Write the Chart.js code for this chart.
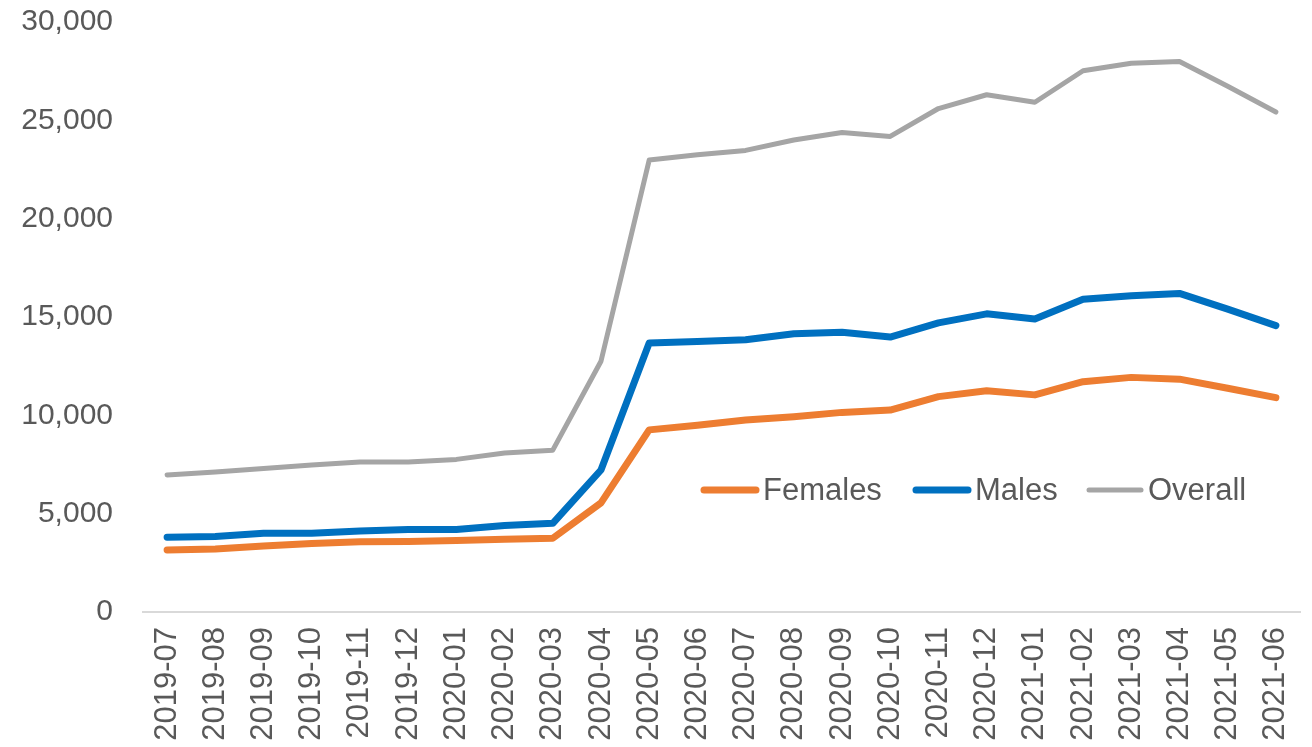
<!DOCTYPE html>
<html>
<head>
<meta charset="utf-8">
<script src="https://cdn.jsdelivr.net/npm/chart.js@4.4.0/dist/chart.umd.min.js"></script>
<style>
  html, body { margin: 0; padding: 0; background: #fff; }
</style>
</head>
<body>
<canvas id="chLine" width="1312" height="747"></canvas>
<script>
var months = ['2019-07','2019-08','2019-09','2019-10','2019-11','2019-12','2020-01','2020-02','2020-03','2020-04','2020-05','2020-06',
  '2020-07','2020-08','2020-09','2020-10','2020-11','2020-12','2021-01','2021-02','2021-03','2021-04','2021-05','2021-06'];
var females = [3150,3200,3350,3480,3570,3580,3630,3700,3750,5550,9260,9500,9760,9930,10150,10270,10950,11250,11040,11710,11930,11840,11380,10900];
var males   = [3800,3840,4000,4000,4120,4200,4200,4400,4510,7220,13680,13750,13840,14150,14220,13980,14700,15160,14900,15900,16080,16200,15400,14560];
var overall = [6970,7120,7300,7470,7630,7630,7760,8080,8230,12750,22980,23250,23470,24000,24380,24180,25600,26300,25920,27520,27900,27990,26730,25420];
var yTicks = [0,5000,10000,15000,20000,25000,30000];

var colors = ['#ED7D31','#0070C0','#A5A5A5'];
var fontFam = '"Liberation Sans", Arial, sans-serif';
var textColor = '#595959';

// legend sits inside the plot, drawn by hand
var legendPlugin = {
  id: 'insideLegend',
  afterDraw: function(chart) {
    var ctx = chart.ctx;
    var items = [
      {label: 'Females', color: colors[0], x: 704, w: 7},
      {label: 'Males', color: colors[1], x: 916, w: 7},
      {label: 'Overall', color: colors[2], x: 1089, w: 5}
    ];
    ctx.save();
    ctx.font = '31px ' + fontFam;
    ctx.textBaseline = 'middle';
    items.forEach(function(it) {
      ctx.strokeStyle = it.color;
      ctx.lineWidth = it.w;
      ctx.lineCap = 'round';
      ctx.beginPath();
      ctx.moveTo(it.x, 490);
      ctx.lineTo(it.x + 52, 490);
      ctx.stroke();
      ctx.fillStyle = textColor;
      ctx.fillText(it.label, it.x + 59, 491);
    });
    ctx.restore();
  }
};

new Chart(document.getElementById('chLine'), {
  type: 'line',
  data: {
    labels: months,
    datasets: [
      { label: 'Females', data: females, borderColor: colors[0], backgroundColor: colors[0], borderWidth: 7 },
      { label: 'Males', data: males, borderColor: colors[1], backgroundColor: colors[1], borderWidth: 7 },
      { label: 'Overall', data: overall, borderColor: colors[2], backgroundColor: colors[2], borderWidth: 5 }
    ]
  },
  options: {
    responsive: false,
    animation: false,
    devicePixelRatio: 1,
    layout: { padding: { top: 22, right: 12, left: 0, bottom: 0 } },
    elements: {
      point: { radius: 0 },
      line: { tension: 0, borderJoinStyle: 'round', borderCapStyle: 'round' }
    },
    plugins: {
      legend: { display: false },
      tooltip: { enabled: false }
    },
    scales: {
      x: {
        offset: true,
        grid: { display: false },
        border: { display: true, color: '#D9D9D9', width: 2 },
        ticks: {
          color: textColor,
          font: { family: fontFam, size: 31 },
          minRotation: 90, maxRotation: 90,
          autoSkip: false,
          padding: 7
        },
        afterFit: function(scale) {
          scale.height = 135;
          scale.paddingLeft = 0;
          scale.paddingRight = 0;
        }
      },
      y: {
        min: 0, max: 30000,
        afterBuildTicks: function(scale) {
          scale.ticks = yTicks.map(function(v) { return {value: v}; });
        },
        grid: { display: false },
        border: { display: false },
        ticks: {
          color: textColor,
          font: { family: fontFam, size: 30 },
          padding: 22,
          callback: function(v) { return v.toLocaleString('en-US'); }
        },
        afterFit: function(scale) {
          scale.width = 143;
          scale.paddingTop = 0;
          scale.paddingBottom = 0;
        }
      }
    }
  },
  plugins: [legendPlugin]
});
</script>
</body>
</html>
